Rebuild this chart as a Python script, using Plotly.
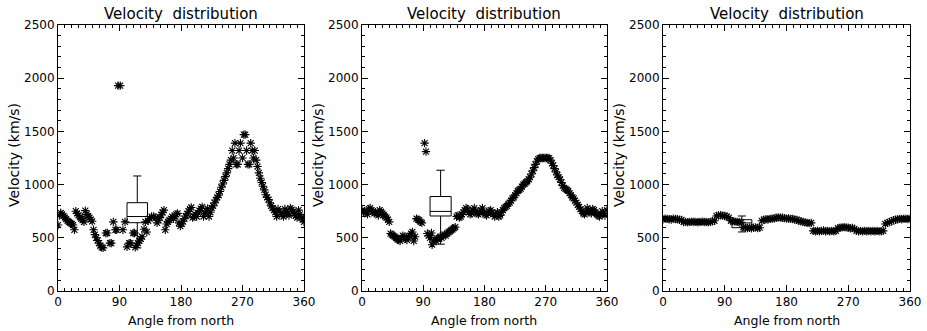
import plotly.graph_objects as go

# ---------------- data ----------------
p1_angle = [0, 2, 4, 6, 8, 10, 12, 14, 16, 18,
            20, 22, 24, 26, 28, 30, 32, 34, 36, 38,
            40, 42, 44, 46, 48, 50, 52, 54, 56, 58,
            60, 62, 64, 66, 70, 72, 76, 78, 81, 84,
            86, 88, 91, 95, 98, 101, 104, 106, 110, 112,
            113, 115, 117, 119, 121, 123, 126, 128, 130, 132,
            134, 137, 140, 143, 145, 147, 149, 151, 153, 155,
            157, 159, 161, 163, 165, 167, 169, 171, 173, 175,
            177, 179, 181, 183, 185, 187, 189, 191, 193, 195,
            197, 199, 201, 203, 205, 207, 209, 211, 213, 215,
            217, 219, 221, 223, 225, 227, 229, 231, 233, 235,
            237, 239, 241, 243, 245, 247, 249, 251, 253, 255,
            257, 259, 261, 263, 265, 267, 270, 272, 274, 276,
            278, 280, 282, 284, 286, 288, 290, 292, 294, 296,
            298, 300, 302, 304, 306, 308, 310, 312, 314, 316,
            318, 320, 322, 324, 326, 328, 330, 332, 334, 336,
            338, 340, 342, 344, 346, 348, 350, 352, 354, 356,
            358, 360]
p1_vel = [620, 710, 735, 720, 705, 690, 675, 660, 650, 640,
          630, 620, 575, 750, 730, 710, 695, 680, 665, 650,
          755, 720, 705, 690, 670, 655, 575, 530, 500, 475,
          450, 425, 410, 405, 545, 545, 450, 450, 650, 575,
          575, 1930, 1930, 575, 650, 415, 450, 450, 545, 545,
          410, 430, 450, 470, 490, 510, 580, 650, 555, 660,
          680, 700, 700, 690, 640, 665, 690, 715, 740, 760,
          575, 630, 650, 665, 680, 700, 680, 700, 720, 730,
          640, 610, 630, 655, 680, 705, 725, 750, 770, 785,
          690, 700, 720, 700, 735, 755, 775, 790, 700, 725,
          750, 775, 700, 740, 780, 800, 830, 855, 880, 900,
          935, 975, 1005, 1040, 1075, 1110, 1150, 1190, 1230, 1320,
          1250, 1390, 1190, 1190, 1320, 1390, 1250, 1470, 1470, 1320,
          1190, 1190, 1390, 1320, 1250, 1320, 1230, 1170, 1110, 1060,
          1020, 985, 950, 905, 880, 860, 830, 800, 780, 760,
          740, 700, 770, 750, 735, 715, 700, 770, 750, 730,
          710, 780, 765, 745, 725, 705, 690, 760, 720, 690,
          670, 650]

p2_angle = [0, 2, 4, 6, 8, 10, 12, 14, 16, 18,
            20, 22, 24, 26, 28, 30, 32, 34, 36, 38,
            40, 42, 44, 46, 48, 50, 52, 54, 56, 58,
            60, 62, 64, 66, 68, 70, 72, 74, 76, 78,
            80, 82, 84, 86, 88, 92, 94, 96, 98, 100,
            102, 103, 105, 107, 109, 111, 113, 115, 117, 119,
            121, 123, 125, 127, 129, 131, 133, 135, 137, 139,
            141, 143, 145, 147, 149, 151, 153, 155, 157, 159,
            161, 163, 165, 167, 169, 171, 173, 175, 177, 179,
            181, 183, 185, 187, 189, 191, 193, 195, 197, 199,
            201, 203, 205, 207, 209, 211, 213, 215, 217, 219,
            221, 223, 225, 227, 229, 231, 233, 235, 237, 239,
            241, 243, 245, 247, 249, 251, 253, 255, 257, 259,
            261, 263, 265, 267, 269, 271, 273, 275, 277, 279,
            281, 283, 285, 287, 289, 291, 293, 295, 297, 299,
            301, 303, 305, 307, 309, 311, 313, 315, 317, 319,
            321, 323, 325, 327, 329, 331, 333, 335, 337, 339,
            341, 343, 345, 347, 349, 351, 353, 355, 357, 360]
p2_vel = [760, 740, 750, 735, 720, 770, 780, 760, 745, 730,
          740, 725, 710, 760, 745, 730, 715, 700, 690, 670,
          650, 540, 530, 520, 510, 500, 485, 480, 470, 500,
          520, 510, 490, 480, 500, 520, 540, 555, 470, 510,
          680, 670, 665, 650, 640, 1390, 1310, 540, 520, 500,
          545, 435, 470, 480, 470, 490, 500, 510, 500, 520,
          530, 520, 540, 550, 560, 570, 580, 590, 600, 700,
          710, 690, 700, 720, 740, 760, 780, 770, 740, 720,
          730, 760, 780, 750, 730, 720, 740, 760, 780, 740,
          720, 710, 730, 750, 760, 740, 720, 700, 720, 740,
          700, 710, 740, 760, 780, 790, 800, 820, 830, 850,
          870, 880, 900, 920, 940, 950, 960, 980, 1000, 1010,
          1020, 1030, 1050, 1070, 1100, 1130, 1160, 1190, 1220, 1240,
          1250, 1250, 1250, 1250, 1250, 1250, 1250, 1250, 1230, 1200,
          1180, 1150, 1120, 1090, 1070, 1050, 1020, 990, 970, 960,
          950, 940, 920, 900, 880, 870, 850, 830, 810, 790,
          770, 750, 730, 720, 740, 780, 760, 740, 730, 770,
          760, 740, 720, 710, 700, 720, 750, 730, 710, 760]

p3_angle = [0, 3, 6, 9, 12, 15, 18, 21, 24, 27,
            30, 33, 36, 39, 42, 45, 48, 51, 54, 57,
            60, 63, 66, 69, 72, 75, 78, 81, 84, 87,
            90, 93, 96, 99, 102, 105, 108, 111, 114, 117,
            120, 123, 126, 129, 132, 135, 138, 141, 144, 147,
            150, 153, 156, 159, 162, 165, 168, 171, 174, 177,
            180, 183, 186, 189, 192, 195, 198, 201, 204, 207,
            210, 213, 216, 219, 222, 225, 228, 231, 234, 237,
            240, 243, 246, 249, 252, 255, 258, 261, 264, 267,
            270, 273, 276, 279, 282, 285, 288, 291, 294, 297,
            300, 303, 306, 309, 312, 315, 318, 321, 324, 327,
            330, 333, 336, 339, 342, 345, 348, 351, 354, 357,
            360]
p3_vel = [675, 680, 678, 675, 672, 680, 676, 674, 670, 668,
          648, 650, 645, 650, 652, 648, 650, 646, 650, 652,
          648, 650, 645, 650, 655, 660, 705, 710, 712, 708,
          705, 700, 690, 660, 655, 652, 650, 648, 645, 600,
          595, 592, 595, 590, 595, 598, 592, 595, 660, 670,
          675, 672, 678, 680, 682, 688, 692, 690, 688, 685,
          680, 682, 678, 676, 672, 668, 660, 655, 650, 645,
          640, 638, 640, 565, 562, 565, 560, 565, 568, 562,
          565, 560, 565, 562, 565, 590, 595, 598, 600, 598,
          595, 590, 592, 585, 565, 562, 565, 560, 565, 562,
          565, 560, 565, 562, 565, 560, 562, 565, 630, 640,
          648, 655, 665, 670, 675, 678, 675, 680, 678, 676,
          680]

# box summaries: [lower whisker, q1, median, q3, upper whisker]
box_pos = [116, 115.5, 115]
box_width = [30, 31, 29]
box_stats = [
    [405, 642, 700, 830, 1081],
    [440, 705, 748, 888, 1135],
    [555, 595, 640, 670, 705],
]

x_ticks = [0, 90, 180, 270, 360]
y_ticks = [0, 500, 1000, 1500, 2000, 2500]
panel_title = "Velocity  distribution"
x_title = "Angle from north"
y_title = "Velocity (km/s)"

# ---------------- figure ----------------
W, H = 927, 331
x_dom_px = [(58, 304), (362, 607), (663, 910)]
y_dom_px = (25, 291)
FONT = "DejaVu Sans"

fig = go.Figure()
series = [(p1_angle, p1_vel), (p2_angle, p2_vel), (p3_angle, p3_vel)]

for i, (ang, vel) in enumerate(series):
    n = "" if i == 0 else str(i + 1)
    fig.add_trace(go.Scatter(
        x=ang, y=vel, mode="markers", xaxis="x" + n, yaxis="y" + n,
        marker=dict(symbol="asterisk-open", size=7, color="black",
                    line=dict(color="black", width=1.1)),
        showlegend=False, hoverinfo="skip"))
    lo, q1, med, q3, hi = box_stats[i]
    fig.add_trace(go.Box(
        x=[box_pos[i]], q1=[q1], median=[med], q3=[q3],
        lowerfence=[lo], upperfence=[hi], width=box_width[i],
        xaxis="x" + n, yaxis="y" + n, boxpoints=False,
        whiskerwidth=0.4, fillcolor="rgba(0,0,0,0)",
        line=dict(color="black", width=1), showlegend=False,
        hoverinfo="skip"))

    x0, x1 = x_dom_px[i]
    axis_common = dict(
        ticks="inside", tickwidth=1, tickcolor="black",
        showline=True, linecolor="black", linewidth=1, mirror="ticks",
        showgrid=False, zeroline=False, automargin=False,
        tickfont=dict(family=FONT, size=12, color="black"),
    )
    fig.layout["xaxis" + n] = dict(
        domain=[x0 / W, x1 / W], range=[0, 360], tickmode="array",
        tickvals=x_ticks, ticklen=6, anchor="y" + n,
        minor=dict(tick0=0, dtick=10, ticks="inside", ticklen=3,
                   tickcolor="black", showgrid=False),
        **axis_common)
    fig.layout["yaxis" + n] = dict(
        domain=[1 - y_dom_px[1] / H, 1 - y_dom_px[0] / H], range=[0, 2500],
        tickmode="array", tickvals=y_ticks, ticklen=6, anchor="x" + n,
        minor=dict(tick0=0, dtick=100, ticks="inside", ticklen=3,
                   tickcolor="black", showgrid=False),
        **axis_common)

    xc = (x0 + x1) / 2 / W
    fig.add_annotation(text=panel_title, x=xc, y=1 - 14 / H, xref="paper",
                       yref="paper", showarrow=False, xanchor="center",
                       yanchor="middle",
                       font=dict(family=FONT, size=15, color="black"))
    fig.add_annotation(text=x_title, x=xc, y=1 - 320 / H, xref="paper",
                       yref="paper", showarrow=False, xanchor="center",
                       yanchor="middle",
                       font=dict(family=FONT, size=12.5, color="black"))
    fig.add_annotation(text=y_title, x=(x0 - 44) / W, y=1 - 155 / H,
                       xref="paper", yref="paper", showarrow=False,
                       textangle=-90, xanchor="center", yanchor="middle",
                       font=dict(family=FONT, size=14, color="black"))

fig.update_layout(width=W, height=H, margin=dict(l=0, r=0, t=0, b=0),
                  paper_bgcolor="white", plot_bgcolor="white")

fig.write_html("out.html")
